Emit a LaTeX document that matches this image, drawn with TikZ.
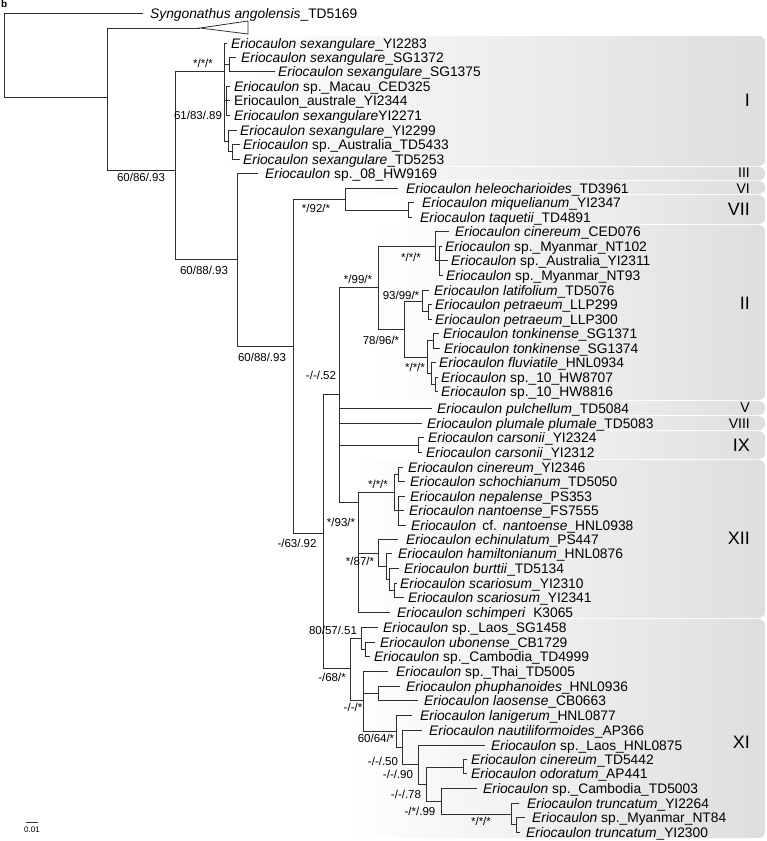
\documentclass[tikz,border=0pt]{standalone}
\usepackage{fontspec}
\setmainfont{Liberation Sans}
\begin{document}
\begin{tikzpicture}[x=1pt,y=-1pt,
  br/.style={draw=black!82, line width=0.8pt},
  tx/.style={anchor=base west, inner sep=0pt, font=\fontsize{13.8}{14}\selectfont},
  sup/.style={inner sep=0pt, font=\fontsize{11.5}{12}\selectfont},
  cladebox/.style={rounded corners=6pt, left color=white, right color=black!13, draw=none},
  num/.style={anchor=east, inner sep=0pt, font=\fontsize{18}{19}\selectfont},
  numthin/.style={anchor=east, inner sep=0pt, font=\fontsize{14}{15}\selectfont},
]
\useasboundingbox (0,0) rectangle (767,841);
\newcommand{\tip}[5]{\coordinate (#1) at (#2,#4); \node[tx] (#1t) at (#3,#4+5) {#5};}
\newcommand{\kids}[2]{\foreach \k in {#2} {\draw[br] (#1) |- (\k);}}
\newcommand{\E}{\textit{Eriocaulon}}
% clade boxes
\path[cladebox] (215,36) rectangle (765,166);
\path[cladebox] (255,167) rectangle (765,180);
\path[cladebox] (340,181) rectangle (765,194);
\path[cladebox] (400,195) rectangle (765,224);
\path[cladebox] (375,225) rectangle (765,400);
\path[cladebox] (425,401) rectangle (765,415);
\path[cladebox] (415,416) rectangle (765,430);
\path[cladebox] (410,431) rectangle (765,459);
\path[cladebox] (355,460) rectangle (765,618);
\path[cladebox] (345,619) rectangle (765,838);
\node[num] (nI) at (750,100) {I};
\node[numthin] (nIII) at (750,172.5) {III};
\node[numthin] (nVI) at (750,188.5) {VI};
\node[num] (nVII) at (750,209.5) {VII};
\node[num] (nII) at (750,303) {II};
\node[numthin] (nV) at (750,407.5) {V};
\node[numthin] (nVIII) at (750,423.5) {VIII};
\node[num] (nIX) at (750,445) {IX};
\node[num] (nXII) at (750,538) {XII};
\node[num] (nXI) at (750,742) {XI};
\node[anchor=north west, inner sep=0pt, font=\bfseries\fontsize{10}{10}\selectfont] (lb) at (1,0) {b};
% internal nodes
\coordinate (root) at (4,55);
\coordinate (A) at (107,97);
\coordinate (B) at (175,170);
\coordinate (CI) at (224,71);
\coordinate (SGn) at (229,64);
\coordinate (Mac) at (226,100);
\coordinate (Y99) at (228,141);
\coordinate (TDs) at (232,151.5);
\coordinate (C) at (237,259);
\coordinate (D) at (293,346);
\coordinate (E) at (345,199);
\coordinate (MT) at (408,210);
\coordinate (F) at (323,533);
\coordinate (P) at (339,394);
\coordinate (carn) at (418,445);
\coordinate (II) at (378,287);
\coordinate (CEDg) at (435,246);
\coordinate (NTs) at (439,260.5);
\coordinate (M404) at (404,329);
\coordinate (Lg) at (422,301);
\coordinate (pet) at (428,311.5);
\coordinate (T) at (427,357);
\coordinate (SGt) at (433,340.5);
\coordinate (FH) at (431,373);
\coordinate (HW) at (435,384.5);
\coordinate (XII) at (358,502);
\coordinate (Aa) at (394,492);
\coordinate (cs) at (398,474);
\coordinate (nn) at (398,510);
\coordinate (Bb) at (378,553);
\coordinate (H) at (386,566);
\coordinate (Bu) at (389,579);
\coordinate (sc) at (394,590);
\coordinate (XI) at (350,668);
\coordinate (La) at (361,638);
\coordinate (ub) at (365,649);
\coordinate (N363) at (363,700);
\coordinate (ph) at (378,693);
\coordinate (N6064) at (396,731);
\coordinate (N50) at (402,747);
\coordinate (N90) at (418,764.5);
\coordinate (N78) at (426,784);
\coordinate (cin) at (463,767);
\coordinate (N99) at (441,801);
\coordinate (tr) at (511,814);
\coordinate (n84) at (516,824.5);
% tips
\tip{syn}{143}{150}{13}{\textit{Syngonathus angolensis}\_TD5169}
\tip{a1}{227}{231}{43}{\E\ \textit{sexangulare}\_YI2283}
\tip{a2}{236}{241}{57}{\E\ \textit{sexangulare}\_SG1372}
\tip{a3}{275}{278}{71}{\E\ \textit{sexangulare}\_SG1375}
\tip{a4}{230}{234}{86}{\E\ sp.\_Macau\_CED325}
\tip{a5}{230}{234}{100}{Eriocaulon\_australe\_YI2344}
\tip{a6}{230}{234}{115}{\E\ \textit{sexangulare}YI2271}
\tip{a7}{237}{240}{130}{\E\ \textit{sexangulare}\_YI2299}
\tip{a8}{240}{243}{144}{\E\ sp.\_Australia\_TD5433}
\tip{a9}{240}{243}{159}{\E\ \textit{sexangulare}\_TD5253}
\tip{b1}{258}{265}{173}{\E\ sp.\_08\_HW9169}
\tip{b2}{398}{406}{188}{\E\ \textit{heleocharioides}\_TD3961}
\tip{b3}{414}{422}{202}{\E\ \textit{miquelianum}\_YI2347}
\tip{b4}{412}{420}{217}{\E\ \textit{taquetii}\_TD4891}
\tip{c1}{449}{455}{231}{\E\ \textit{cinereum}\_CED076}
\tip{c2}{442}{445}{246}{\E\ sp.\_Myanmar\_NT102}
\tip{c3}{448}{451}{260}{\E\ sp.\_Australia\_YI2311}
\tip{c4}{443}{446}{275}{\E\ sp.\_Myanmar\_NT93}
\tip{c5}{429}{434}{290}{\E\ \textit{latifolium}\_TD5076}
\tip{c6}{432}{435}{304}{\E\ \textit{petraeum}\_LLP299}
\tip{c7}{432}{435}{319}{\E\ \textit{petraeum}\_LLP300}
\tip{c8}{439}{443}{333}{\E\ \textit{tonkinense}\_SG1371}
\tip{c9}{440}{444}{348}{\E\ \textit{tonkinense}\_SG1374}
\tip{c10}{436}{439}{362}{\E\ \textit{fluviatile}\_HNL0934}
\tip{c11}{438}{441}{377}{\E\ sp.\_10\_HW8707}
\tip{c12}{438}{441}{391}{\E\ sp.\_10\_HW8816}
\tip{d1}{432}{437}{408}{\E\ \textit{pulchellum}\_TD5084}
\tip{d2}{422}{427}{423}{\E\ \textit{plumale plumale}\_TD5083}
\tip{d3}{424}{428}{437}{\E\ \textit{carsonii}\_YI2324}
\tip{d4}{422}{426}{452}{\E\ \textit{carsonii}\_YI2312}
\tip{e1}{403}{408}{467}{\E\ \textit{cinereum}\_YI2346}
\tip{e2}{405}{410}{481}{\E\ \textit{schochianum}\_TD5050}
\tip{e3}{405}{410}{496}{\E\ \textit{nepalense}\_PS353}
\tip{e4}{404}{409}{510}{\E\ \textit{nantoense}\_FS7555}
\tip{e5}{406}{411}{525}{\E\hspace{6pt}cf.\hspace{6pt}\textit{nantoense}\_HNL0938}
\tip{e6}{398}{406}{539}{\E\ \textit{echinulatum}\_PS447}
\tip{e7}{392}{398}{553}{\E\ \textit{hamiltonianum}\_HNL0876}
\tip{e8}{399}{404}{568}{\E\ \textit{burttii}\_TD5134}
\tip{e9}{397}{400}{583}{\E\ \textit{scariosum}\_YI2310}
\tip{e10}{404}{408}{597}{\E\ \textit{scariosum}\_YI2341}
\tip{e11}{390}{397}{612}{\E\ \textit{schimperi}\ \ K3065}
\tip{f1}{378}{383}{627}{\E\ sp.\_Laos\_SG1458}
\tip{f2}{375}{380}{642}{\E\ \textit{ubonense}\_CB1729}
\tip{f3}{370}{374}{656}{\E\ sp.\_Cambodia\_TD4999}
\tip{f4}{388}{396}{671}{\E\ sp.\_Thai\_TD5005}
\tip{f5}{400}{406}{686}{\E\ \textit{phuphanoides}\_HNL0936}
\tip{f6}{418}{424}{700}{\E\ \textit{laosense}\_CB0663}
\tip{f7}{412}{420}{715}{\E\ \textit{lanigerum}\_HNL0877}
\tip{f8}{422}{429}{730}{\E\ \textit{nautiliformoides}\_AP366}
\tip{f9}{485}{491}{745}{\E\ sp.\_Laos\_HNL0875}
\tip{f10}{467}{471}{759}{\E\ \textit{cinereum}\_TD5442}
\tip{f11}{467}{471}{773}{\E\ \textit{odoratum}\_AP441}
\tip{f12}{477}{483}{788}{\E\ sp.\_Cambodia\_TD5003}
\tip{f13}{519}{527}{803}{\E\ \textit{truncatum}\_YI2264}
\tip{f14}{525}{532}{817}{\E\ sp.\_Myanmar\_NT84}
\tip{f15}{520}{526}{832}{\E\ \textit{truncatum}\_YI2300}
% collapsed outgroup
\coordinate (triA) at (200,28);
\coordinate (triB) at (248,21);
\coordinate (triC) at (248,34);
\draw[br] (triA) -- (triB) -- (triC) -- cycle;
% branches
\kids{root}{syn,A}
\kids{A}{triA,B}
\kids{B}{CI,C}
\kids{CI}{a1,SGn,Mac,Y99}
\kids{SGn}{a2,a3}
\kids{Mac}{a4,a5,a6}
\kids{Y99}{a7,TDs}
\kids{TDs}{a8,a9}
\kids{C}{b1,D}
\kids{D}{E,F}
\kids{E}{b2,MT}
\kids{MT}{b3,b4}
\kids{F}{P,XI}
\kids{P}{II,d1,d2,carn,XII}
\kids{carn}{d3,d4}
\kids{II}{CEDg,M404}
\kids{CEDg}{c1,NTs}
\kids{NTs}{c2,c3,c4}
\kids{M404}{Lg,T}
\kids{Lg}{c5,pet}
\kids{pet}{c6,c7}
\kids{T}{SGt,FH}
\kids{SGt}{c8,c9}
\kids{FH}{c10,HW}
\kids{HW}{c11,c12}
\kids{XII}{Aa,Bb,e11}
\kids{Aa}{cs,nn}
\kids{cs}{e1,e2}
\kids{nn}{e3,e4,e5}
\kids{Bb}{e6,H}
\kids{H}{e7,Bu}
\kids{Bu}{e8,sc}
\kids{sc}{e9,e10}
\kids{XI}{La,N363}
\kids{La}{f1,ub}
\kids{ub}{f2,f3}
\kids{N363}{f4,ph,N6064}
\kids{ph}{f5,f6}
\kids{N6064}{f7,N50}
\kids{N50}{f8,N90}
\kids{N90}{f9,N78}
\kids{N78}{cin,N99}
\kids{cin}{f10,f11}
\kids{N99}{f12,tr}
\kids{tr}{f13,n84}
\kids{n84}{f14,f15}
% support values
\node[sup] (s1) at (203,63) {*/*/*};
\node[sup] (s2) at (198,115) {61/83/.89};
\node[sup] (s3) at (141,177) {60/86/.93};
\node[sup] (s4) at (204,270) {60/88/.93};
\node[sup] (s5) at (262,357) {60/88/.93};
\node[sup] (s6) at (316,208) {*/92/*};
\node[sup] (s7) at (358,279) {*/99/*};
\node[sup] (s8) at (411,257) {*/*/*};
\node[sup] (s9) at (401,295) {93/99/*};
\node[sup] (s10) at (381,340) {78/96/*};
\node[sup] (s11) at (415,367) {*/*/*};
\node[sup] (s12) at (321,375) {-/-/.52};
\node[sup] (s13) at (297,543) {-/63/.92};
\node[sup] (s14) at (378,484) {*/*/*};
\node[sup] (s15) at (341,522) {*/93/*};
\node[sup] (s16) at (360,561) {*/87/*};
\node[sup] (s17) at (333,630) {80/57/.51};
\node[sup] (s18) at (332,677) {-/68/*};
\node[sup] (s19) at (353,707) {-/-/*};
\node[sup] (s20) at (376,738) {60/64/*};
\node[sup] (s21) at (383,761) {-/-/.50};
\node[sup] (s22) at (398,774) {-/-/.90};
\node[sup] (s23) at (406,794) {-/-/.78};
\node[sup] (s24) at (420,811) {-/*/.99};
\node[sup] (s25) at (481,821) {*/*/*};
% scale bar
\coordinate (sb1) at (26,822);
\coordinate (sb2) at (38,822);
\draw[br, line width=0.6pt] (sb1) -- (sb2);
\node[inner sep=0pt, font=\fontsize{8}{9}\selectfont] (sbl) at (32,830) {0.01};
\end{tikzpicture}
\end{document}
